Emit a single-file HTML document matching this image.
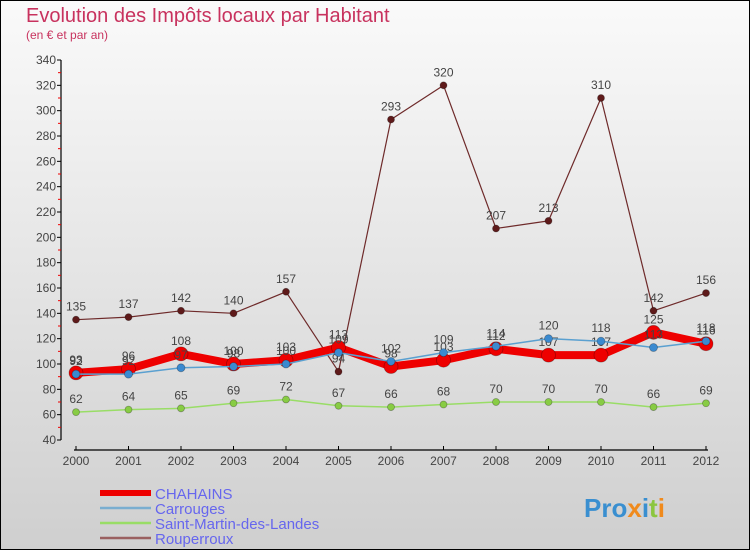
<!DOCTYPE html>
<html><head><meta charset="utf-8"><style>
body{margin:0}
#wrap{width:750px;height:550px;position:relative;overflow:hidden;font-family:"Liberation Sans",sans-serif}
</style></head><body>
<div id="wrap">
<svg id="chart" width="750" height="550" xmlns="http://www.w3.org/2000/svg">
<defs><linearGradient id="bg" x1="0" y1="0" x2="0" y2="1"><stop offset="0" stop-color="#fafafa"/><stop offset="1" stop-color="#cfcfcf"/></linearGradient></defs>
<rect x="0.5" y="0.5" width="749" height="549" fill="url(#bg)" stroke="#000"/>
<text x="26" y="22" font-size="20" fill="#c8325e">Evolution des Impôts locaux par Habitant</text>
<text x="26" y="39" font-size="12" fill="#c8325e">(en € et par an)</text>
<g id="axes"></g>
<g id="series"></g>
<g id="legend"></g>
<text x="584" y="517" font-size="26" font-weight="bold" fill="#3a8fd0">Pro<tspan fill="#f08a1c">x</tspan><tspan fill="#3a8fd0">i</tspan><tspan fill="#8cc63f">t</tspan><tspan fill="#f08a1c">i</tspan></text>
</svg>
</div>
<script>
const years=[2000,2001,2002,2003,2004,2005,2006,2007,2008,2009,2010,2011,2012];
const yTicks=[40,60,80,100,120,140,160,180,200,220,240,260,280,300,320,340];
const seriesNames=["CHAHAINS","Carrouges","Saint-Martin-des-Landes","Rouperroux"];
const chahains=[93,96,108,100,103,113,98,103,112,107,107,125,116];
const carrouges=[92,92,97,98,100,109,102,109,114,120,118,113,118];
const saintMartin=[62,64,65,69,72,67,66,68,70,70,70,66,69];
const rouperroux=[135,137,142,140,157,94,293,320,207,213,310,142,156];

const NS="http://www.w3.org/2000/svg";
function x(i){return 76+i*(706-76)/(years.length-1);}
function y(v){return 440-(v-40)*(380/300);}
function mk(tag,attrs,parent){const e=document.createElementNS(NS,tag);for(const k in attrs)e.setAttribute(k,attrs[k]);parent.appendChild(e);return e;}
const axes=document.getElementById('axes');
let a=mk('line',{x1:61,y1:60,x2:61,y2:440,stroke:'#000','stroke-width':1.2},axes);


a=mk('line',{x1:74,y1:450,x2:708,y2:450,stroke:'#000','stroke-width':1.2},axes);


yTicks.forEach((v,i)=>{
  mk('line',{x1:57,y1:y(v),x2:61,y2:y(v),stroke:'#000'},axes);
  if(i<yTicks.length-1) mk('line',{x1:58,y1:y(v+10),x2:61,y2:y(v+10),stroke:'#e00'},axes);
  const t=mk('text',{x:56,y:y(v)+4,'font-size':12,'text-anchor':'end',fill:'#444'},axes);
  t.textContent=v;
  
  
});
years.forEach((yr,i)=>{
  mk('line',{x1:x(i),y1:446,x2:x(i),y2:450,stroke:'#000'},axes);
  const t=mk('text',{x:x(i),y:465,'font-size':12,'text-anchor':'middle',fill:'#444'},axes);
  t.textContent=yr;
  
  
});
const ser=document.getElementById('series');
const defs=[
 {d:saintMartin,c:'#99dd66',w:1.5,r:3.5,mc:'#88cc44',n:'saint-martin'},
 {d:rouperroux,c:'#6e2a2a',w:1.2,r:3.5,mc:'#5e1a1a',n:'rouperroux'},
 {d:chahains,c:'#ee0000',w:8,r:7,mc:'#ee0000',n:'chahains'},
 {d:carrouges,c:'#5aa0d0',w:1.5,r:4,mc:'#3a8ad0',n:'carrouges'}
];
defs.forEach(s=>{
  const g=mk('g',{},ser);
  
  
  const p=mk('polyline',{points:s.d.map((v,i)=>x(i)+','+y(v)).join(' '),fill:'none',stroke:s.c,'stroke-width':s.w,'stroke-linejoin':'round'},g);
  
  
  s.d.forEach((v,i)=>{
    const c=mk('circle',{cx:x(i),cy:y(v),r:s.r,fill:s.mc,stroke:'rgba(0,0,0,0.3)','stroke-width':0.8},g);
    
    
    const t=mk('text',{x:x(i),y:y(v)-9,'font-size':12,'text-anchor':'middle',fill:'#444'},g);
    t.textContent=v;
    
    
  });
});
const leg=document.getElementById('legend');
const legColors=['#ee0000','#7aaed0','#99dd66','#9a6060'];
const legW=[6,2.5,2.5,2.5];
seriesNames.forEach((n,i)=>{
  const g=mk('g',{},leg);
  
  
  const ly=493+i*15;
  mk('line',{x1:100,y1:ly,x2:151,y2:ly,stroke:legColors[i],'stroke-width':legW[i]},g);
  const t=mk('text',{x:155,y:ly+6,'font-size':15,fill:'#6666ee'},g);
  t.textContent=n;
});
</script>
</body></html>
